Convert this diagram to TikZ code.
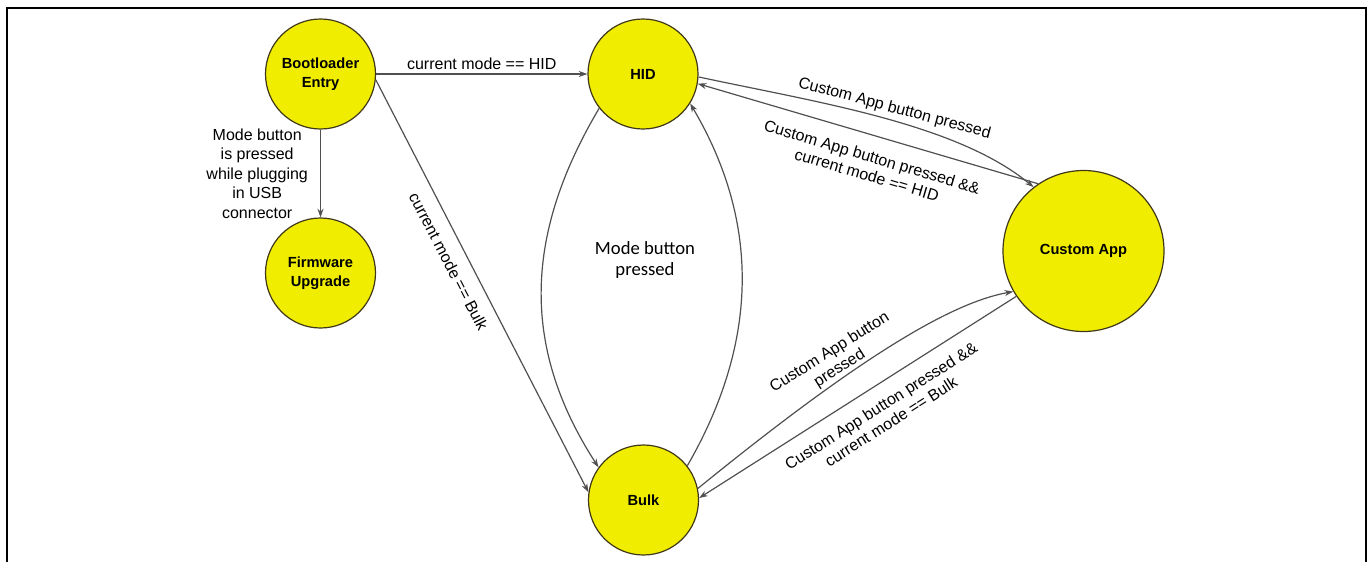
\documentclass[tikz,border=0pt]{standalone}
\usepackage{fontspec}
\setmainfont{Liberation Sans}
\newfontfamily\calibrifont{Carlito}
\usetikzlibrary{arrows.meta}

\definecolor{stateyellow}{RGB}{240,237,0}
\definecolor{stateedge}{RGB}{64,56,24}
\definecolor{edgegray}{RGB}{80,80,80}

\tikzset{every picture/.style={line width=0.75pt}}
\tikzset{
  statenode/.style={circle, draw=stateedge, line width=0.9pt, fill=stateyellow, minimum size=82.5pt, inner sep=0pt, align=center, font=\bfseries\fontsize{11}{14.5}\selectfont},
  arr/.style={draw=edgegray, line width=0.9pt, -{Stealth[length=6.5pt,width=4.5pt]}},
  lbl/.style={font=\fontsize{12}{14}\selectfont, text=black}
}

\begin{document}
\begin{tikzpicture}[x=0.75pt,y=0.75pt,yscale=-1,xscale=1]
	\useasboundingbox (0,0) rectangle (1372,562);

	%Frame
	\draw [line width=1.5pt] (6.8,562) -- (6.8,8.3) -- (1366,8.3) -- (1366,562) ;

	%Shape: Circle
	\node [statenode] (boot) at (320.5,74) {Bootloader\\Entry};
	%Shape: Circle
	\node [statenode] (fw) at (320.5,273) {Firmware\\Upgrade};
	%Shape: Circle
	\node [statenode] (hid) at (643,74) {HID};
	%Shape: Circle
	\node [statenode] (bulk) at (643.5,500) {Bulk};
	%Shape: Circle
	\node [statenode, minimum size=120.75pt] (app) at (1083.5,251) {Custom App};

	%Straight Lines
	\draw [arr] (boot) -- node [lbl, above, inner sep=3pt] (lblhid) {current mode == HID} (hid) ;
	%Straight Lines
	\draw [arr] (boot) -- node [lbl, left, inner sep=9pt, align=center, font=\fontsize{12}{14.6}\selectfont] (lblfw) {Mode button\\is pressed\\while plugging\\in USB\\connector} (fw) ;
	%Straight Lines
	\draw [arr] (boot.-6) -- node [lbl, pos=0.42, rotate=-62.6, anchor=north, inner sep=9pt] (lblbulk) {current mode == Bulk} (bulk.172) ;

	%Curve Lines
	\draw [arr] (hid.218) .. controls (527,230) and (518,343) .. (bulk.144) ;
	%Curve Lines
	\draw [arr] (bulk.38) .. controls (757,345) and (762,225) .. (hid.-32) ;

	%Curve Lines
	\draw [arr] (hid.-3) .. controls (815,102) and (956,123) .. node [lbl, pos=0.53, rotate=-15, anchor=south, inner sep=3pt] (lblapp1) {Custom App button pressed} (app.128) ;
	%Straight Lines
	\draw [arr] (app.124) -- node [lbl, pos=0.47, rotate=-16.5, anchor=north, align=center, inner sep=11pt] (lblapp2) {Custom App button pressed \&\&\\current mode == HID} (hid.-10) ;

	%Curve Lines
	\draw [arr] (bulk.12) .. controls (868,350) and (955,302) .. node [lbl, pos=0.34, rotate=32, anchor=south, align=center, inner sep=1pt] (lblapp3) {Custom App button\\pressed} (app.210) ;
	%Straight Lines
	\draw [arr] (app.214) -- node [lbl, pos=0.46, rotate=32.4, anchor=north, align=center, inner sep=10pt] (lblapp4) {Custom App button pressed \&\&\\current mode == Bulk} (bulk.2) ;

	% Text Node
	\node [font=\calibrifont\fontsize{14}{16}\selectfont, align=center] (lblmode) at (645,260) {Mode button\\pressed};

\end{tikzpicture}
\end{document}
